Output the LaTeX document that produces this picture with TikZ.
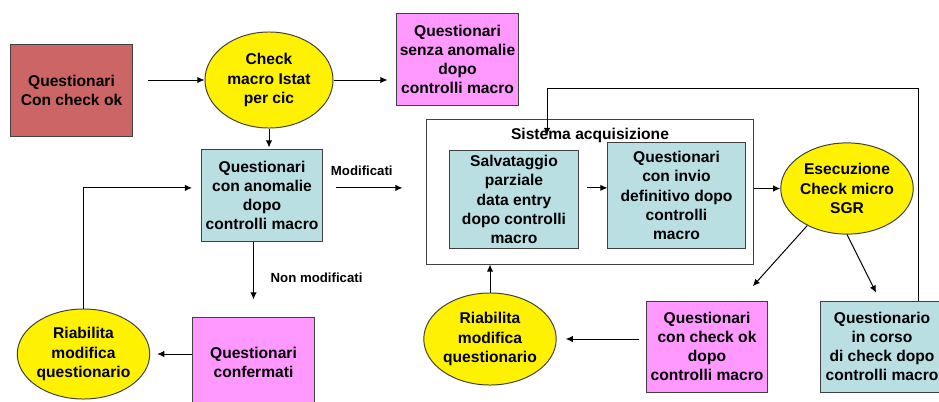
\documentclass[tikz,border=0pt]{standalone}
\usepackage{fontspec}
\setmainfont{Liberation Sans}
\usetikzlibrary{positioning,shapes.geometric,arrows.meta}

\definecolor{boxred}{RGB}{204,102,102}
\definecolor{boxpink}{RGB}{255,153,255}
\definecolor{boxblue}{RGB}{185,223,226}

\begin{document}
\begin{tikzpicture}[x=0.025cm,y=-0.025cm,line width=0.7pt,
>={Latex[length=5pt,width=4.5pt]},
every node/.style={font=\fontsize{11.1}{13.7}\selectfont\bfseries},
box/.style={draw=black!75,rectangle,minimum width=3.025cm,minimum height=2.275cm,align=center,inner sep=0pt},
oval/.style={draw=black!75,ellipse,fill=yellow,minimum width=3.2cm,minimum height=2.3cm,align=center,inner sep=0pt},
small/.style={font=\fontsize{9.4}{11}\selectfont\bfseries}]
\useasboundingbox (0,0) rectangle (939,401);

\node (qok) [box,fill=boxred] at (71.5,90.5) {Questionari\\Con check ok};
\node (check) [oval,minimum height=2.4cm] at (269,80) {Check\\macro Istat\\per cic};
\node (senza) [box,fill=boxpink] at (457.5,59.5) {Questionari\\senza anomalie\\dopo\\controlli macro};
\node (anom) [box,fill=boxblue] at (262,195.5) {Questionari\\con anomalie\\dopo\\controlli macro};
\node (confer) [box,fill=boxpink] at (253.5,362.5) {Questionari\\confermati};
\node (riabA) [oval,minimum width=3.225cm,minimum height=2.25cm] at (83.5,354) {Riabilita\\modifica\\questionario};

\node (sist) [draw=black!75,minimum width=8.15cm,minimum height=3.6cm] at (590,192) {};
\node (sisttitle) [below=0.1cm of sist.north] {Sistema acquisizione};
\node (salva) [box,fill=boxblue,minimum width=3.2cm,minimum height=2.43cm] at (514,199.5) {Salvataggio\\parziale\\data entry\\dopo controlli\\macro};
\node (invio) [box,fill=boxblue,minimum width=3.43cm,minimum height=2.63cm] at (676.5,195.5) {Questionari\\con invio\\definitivo dopo\\controlli\\macro};
\node (esec) [oval,minimum height=2.28cm] at (847,188.5) {Esecuzione\\Check micro\\SGR};

\node (chkok) [box,fill=boxpink] at (707,346.5) {Questionari\\con check ok\\dopo\\controlli macro};
\node (incorso) [box,fill=boxblue,minimum width=3.1cm] at (882,346.5) {Questionario\\in corso\\di check dopo\\controlli macro};
\node (riabB) [oval] at (490,339) {Riabilita\\modifica\\questionario};

\coordinate (fbtop) at (918,88);
\coordinate (fbend) at (547,135);

\draw [->,shorten <=0.375cm] (qok.east |- check.west) -- (check.west);
\draw [->,shorten >=0.225cm] (check.east) -- (senza.west |- check.east);
\draw [->,shorten >=0.05cm] (check.south) -- (check.south |- anom.north);
\draw [->,shorten <=0.325cm,shorten >=0.6cm] ([yshift=0.19cm]anom.east) -- ([yshift=0.19cm]anom.east -| sist.west)
    node [small,pos=0.375,above=0.18cm] {Modificati};
\draw [->,shorten >=0.425cm] (anom.south -| confer.north) -- (confer.north)
    node [small,pos=0.49,right=0.3cm] {Non modificati};
\draw [->,shorten >=0.175cm] (confer.west |- riabA.east) -- (riabA.east);
\draw [->,shorten >=0.225cm] (riabA.north) |- ([yshift=0.19cm]anom.west);

\draw [->,shorten <=0.2cm] ([yshift=0.29cm]salva.east) -- ([yshift=0.29cm]salva.east -| invio.west);
\draw [->] (sist.east |- esec.west) -- (esec.west);
\draw [->,shorten >=0.48cm] (esec.-137) -- ([xshift=0.825cm]chkok.north);
\draw [->,shorten >=0.22cm] (esec.south) -- ([xshift=-0.05cm]incorso.north);
\draw [->] (fbtop |- incorso.north) -- (fbtop) -| (fbend);
\draw [->,shorten <=0.175cm,shorten >=0.225cm] (chkok.west |- riabB.east) -- (riabB.east);
\draw [->] (riabB.north) -- (riabB.north |- sist.south);
\end{tikzpicture}
\end{document}
